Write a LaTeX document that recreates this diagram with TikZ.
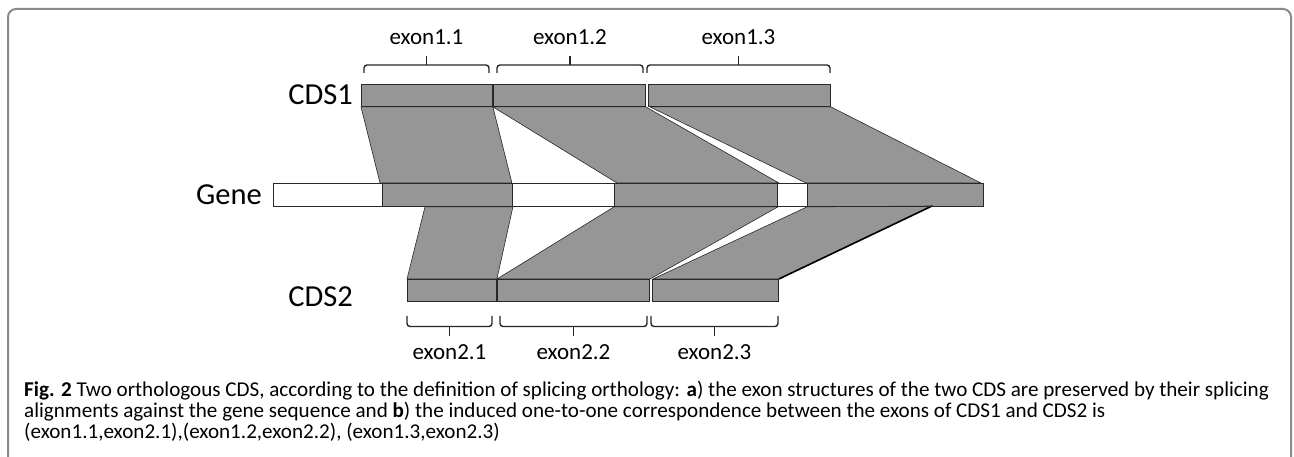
\documentclass[tikz,border=0pt]{standalone}
\usepackage{fontspec}
\setmainfont{Carlito}
\definecolor{exgray}{RGB}{150,150,150}
\definecolor{framegray}{RGB}{138,138,138}
\definecolor{edge}{RGB}{40,40,40}
\tikzset{
  exonbox/.style={draw=edge, line width=0.9pt, fill=exgray, inner sep=0pt, anchor=north west},
  intronbox/.style={draw=edge, line width=0.9pt, fill=white, inner sep=0pt, anchor=north west},
  band/.style={fill=exgray, draw=edge, line width=0.6pt, line join=miter},
  brace/.style={draw=black!85, line width=1.4pt, rounded corners=3pt},
  biglabel/.style={font=\fontsize{30.5}{32}\selectfont, inner sep=0pt},
  exlabel/.style={font=\fontsize{23}{25}\selectfont, inner sep=0pt},
  captext/.style={font=\fontsize{21.1}{24}\selectfont, inner sep=0pt, anchor=base west},
}
\begin{document}
\begin{tikzpicture}[x=1pt,y=-1pt]
\useasboundingbox (0,0) rectangle (1294,457);
% frame
\draw[framegray, line width=2pt, rounded corners=8pt] (8,457) -- (8,9) -- (1291,9) -- (1291,457);

% CDS1 exons
\node[exonbox, minimum width=131pt, minimum height=22pt] (e11) at (361,84) {};
\node[exonbox, minimum width=152pt, minimum height=22pt] (e12) at (493,84) {};
\node[exonbox, minimum width=182pt, minimum height=22pt] (e13) at (648,84) {};
% Gene segments
\node[intronbox, minimum width=109pt, minimum height=23pt] (g0) at (273,183) {};
\node[exonbox, minimum width=130pt, minimum height=23pt] (g1) at (382,183) {};
\node[intronbox, minimum width=102pt, minimum height=23pt] (g2) at (512,183) {};
\node[exonbox, minimum width=163pt, minimum height=23pt] (g3) at (614,183) {};
\node[intronbox, minimum width=30pt, minimum height=23pt] (g4) at (777,183) {};
\node[exonbox, minimum width=176pt, minimum height=23pt] (g5) at (807,183) {};
% CDS2 exons
\node[exonbox, minimum width=89pt, minimum height=22pt] (e21) at (407,279) {};
\node[exonbox, minimum width=152pt, minimum height=22pt] (e22) at (497,279) {};
\node[exonbox, minimum width=126pt, minimum height=22pt] (e23) at (652,279) {};

% alignment bands CDS1 -> Gene
\path[band] (e11.south west) -- (e11.south east) -- ([xshift=-1pt]g1.north east) -- ([xshift=-2pt]g1.north west) -- cycle;
\path[band] (e12.south west) -- (e12.south east) -- ([xshift=1pt]g3.north east) -- ([xshift=3pt]g3.north west) -- cycle;
\path[band] ([xshift=2pt]e13.south west) -- (e13.south east) -- ([xshift=-3pt]g5.north east) -- ([xshift=-1pt]g5.north west) -- cycle;
% alignment bands Gene -> CDS2
\coordinate (b6tr) at (932,206);
\path[band] ([xshift=43pt]g1.south west) -- (g1.south east) -- (e21.north east) -- (e21.north west) -- cycle;
\path[band] (g3.south west) -- (g3.south east) -- ([xshift=-2pt]e23.north west) -- (e22.north west) -- cycle;
\path[band] (g5.south west) -- (b6tr) -- (e23.north east) -- ([xshift=1pt]e23.north west) -- cycle;
\draw[black, line width=1.6pt] (b6tr) -- (e23.north east);

% redraw bar outlines on top
\foreach \n in {e11,e12,e13,g0,g1,g2,g3,g4,g5,e21,e22,e23}{
  \draw[edge, line width=0.9pt] (\n.north west) rectangle (\n.south east);
}

% braces above CDS1
\foreach \a/\b in {364/489, 497/643, 647/830}{
  \draw[brace] (\a,73) -- (\a,65) -- (\b,65) -- (\b,73);
  \draw[black!85, line width=1.6pt] ({(\a+\b)/2},65.5) -- ({(\a+\b)/2},56);
}
% braces below CDS2
\foreach \a/\b in {407/492, 500/647, 651/778}{
  \draw[brace] (\a,316) -- (\a,326.5) -- (\b,326.5) -- (\b,316);
  \draw[black!85, line width=1.6pt] ({(\a+\b)/2},326) -- ({(\a+\b)/2},336);
}

% labels
\node[exlabel] (l11) at (426.5,37) {exon1.1};
\node[exlabel] (l12) at (570,37) {exon1.2};
\node[exlabel] (l13) at (738.5,37) {exon1.3};
\node[exlabel] (l21) at (449.5,352) {exon2.1};
\node[exlabel] (l22) at (573.5,352) {exon2.2};
\node[exlabel] (l23) at (714.5,352) {exon2.3};
\node[biglabel, anchor=east] (cds1) at (353,95) {CDS1};
\node[biglabel, anchor=east] (gene) at (262,195) {Gene};
\node[biglabel, anchor=east] (cds2) at (353,297) {CDS2};

% caption
\node[captext] (cap1) at (24,396) {\textbf{Fig. 2} Two orthologous CDS, according to the definition of splicing orthology: \textbf{a}) the exon structures of the two CDS are preserved by their splicing};
\node[captext] (cap2) at (24,417) {alignments against the gene sequence and \textbf{b}) the induced one-to-one correspondence between the exons of CDS1 and CDS2 is};
\node[captext] (cap3) at (24,438) {(exon1.1,exon2.1),(exon1.2,exon2.2), (exon1.3,exon2.3)};
\end{tikzpicture}
\end{document}
